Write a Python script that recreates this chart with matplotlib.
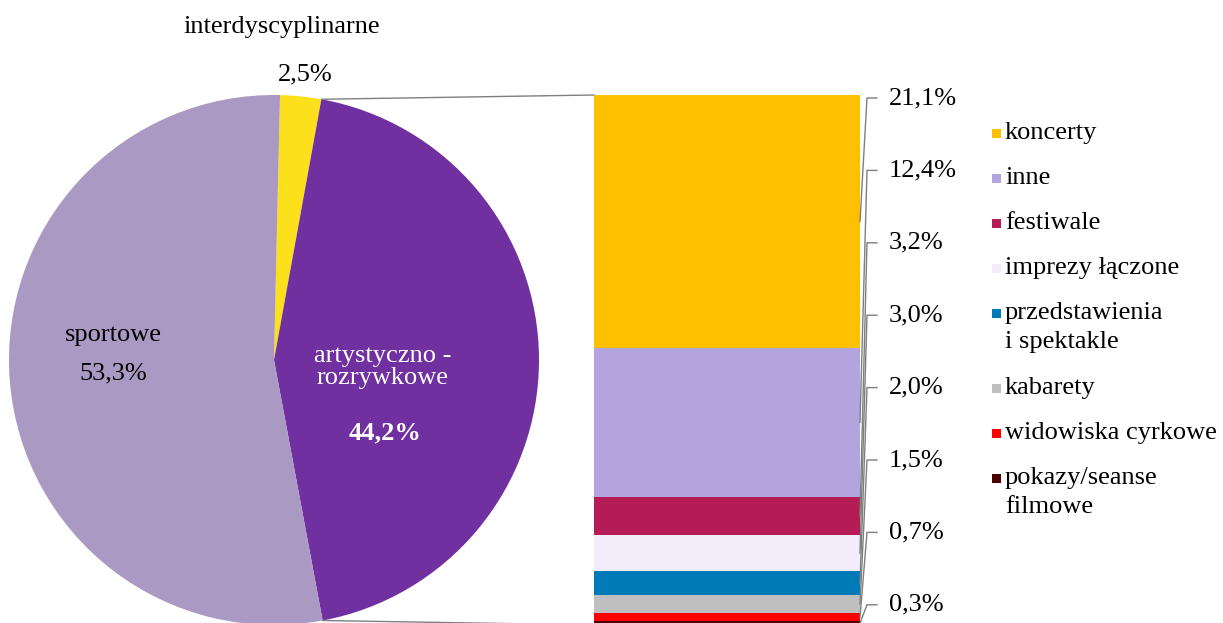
import matplotlib.pyplot as plt
import numpy as np
from matplotlib.patches import ConnectionPatch, Rectangle

plt.rcParams["font.family"] = ["Liberation Serif", "DejaVu Serif"]
plt.rcParams["font.size"] = 19

# pie: main categories
pie_labels = ["interdyscyplinarne", "artystyczno -\nrozrywkowe", "sportowe"]
pie_values = [2.5, 44.2, 53.3]
pie_colors = ["#FCE01C", "#7030A0", "#AA99C3"]

# bar: breakdown of "artystyczno - rozrywkowe" (top to bottom)
bar_labels = ["koncerty", "inne", "festiwale", "imprezy łączone",
              "przedstawienia\ni spektakle", "kabarety", "widowiska cyrkowe",
              "pokazy/seanse\nfilmowe"]
bar_values = [21.1, 12.4, 3.2, 3.0, 2.0, 1.5, 0.7, 0.3]
bar_colors = ["#FFC000", "#B3A4E0", "#B51C55", "#F3ECFA", "#007BB8",
              "#BFBFBF", "#FF0000", "#4A0000"]

W, H = 1223, 623
fig = plt.figure(figsize=(W / 100, H / 100), dpi=100)


def px(x, y):
    return x / W, 1 - y / H


# pie axes (center 274,360 px, radius 265 px)
cx, cy, r = 274, 360, 265
ax_pie = fig.add_axes([(cx - r) / W, 1 - (cy + r) / H, 2 * r / W, 2 * r / H])
start = 88.7
ax_pie.pie(pie_values, colors=pie_colors, startangle=start, counterclock=False,
           radius=1, wedgeprops=dict(linewidth=0))
ax_pie.set_xlim(-1, 1)
ax_pie.set_ylim(-1, 1)
ax_pie.set_aspect("equal")
ax_pie.axis("off")

fmt = lambda v: f"{v:.1f}".replace(".", ",") + "%"

fig.text(*px(282, 27), pie_labels[0], ha="center", va="center")
fig.text(*px(305, 74), fmt(pie_values[0]), ha="center", va="center")
fig.text(*px(383, 367), pie_labels[1], ha="center", va="center", color="white",
         linespacing=1.05)
fig.text(*px(385, 433), fmt(pie_values[1]), ha="center", va="center",
         color="white", fontweight="bold")
fig.text(*px(113, 335), pie_labels[2], ha="center", va="center")
fig.text(*px(113, 373), fmt(pie_values[2]), ha="center", va="center")

# stacked bar axes (594..860 px wide, 95..625 px tall; bottom slightly clipped)
bx0, bx1, by0, by1 = 594, 860, 95, 625
ax_bar = fig.add_axes([bx0 / W, 1 - by1 / H, (bx1 - bx0) / W, (by1 - by0) / H])
total = sum(bar_values)
bottom = 0
mids = []
for v, c in zip(bar_values[::-1], bar_colors[::-1]):
    ax_bar.bar(0.5, v, width=1, bottom=bottom, color=c, linewidth=0)
    mids.append(bottom + v / 2)
    bottom += v
mids = mids[::-1]
ax_bar.set_xlim(0, 1)
ax_bar.set_ylim(0, total)
ax_bar.axis("off")

# value labels with leader lines
scale = total / (by1 - by0)
for i, (v, m) in enumerate(zip(bar_values, mids)):
    ly = 98 + 72.4 * i
    ly_data = (by1 - ly) * scale
    xa = (867 - bx0) / (bx1 - bx0)
    xb = (877 - bx0) / (bx1 - bx0)
    ax_bar.plot([1.0, xa, xb], [m, ly_data, ly_data], color="#7F7F7F", lw=1,
                clip_on=False)
    fig.text(*px(889, ly), fmt(v), ha="left", va="center")

# connectors pie -> bar
a1 = np.deg2rad(start - 360 * pie_values[0] / 100)
a2 = np.deg2rad(start - 360 * (pie_values[0] + pie_values[1]) / 100)
for a, yb in [(a1, total), (a2, 0)]:
    con = ConnectionPatch(xyA=(np.cos(a), np.sin(a)), coordsA=ax_pie.transData,
                          xyB=(0, yb), coordsB=ax_bar.transData,
                          color="#7F7F7F", lw=1)
    fig.add_artist(con)

# legend
ly = 133
for lab, c in zip(bar_labels, bar_colors):
    x0, y0 = px(992, ly + 5)
    fig.add_artist(Rectangle((x0, y0), 9 / W, 9 / H, transform=fig.transFigure,
                             color=c, linewidth=0))
    fig.text(*px(1005, ly), lab.split("\n")[0], ha="left", va="center")
    if "\n" in lab:
        fig.text(*px(1005, ly + 29), lab.split("\n")[1], ha="left", va="center")
        ly += 30
    ly += 45

fig.savefig("out.png", dpi=100)
